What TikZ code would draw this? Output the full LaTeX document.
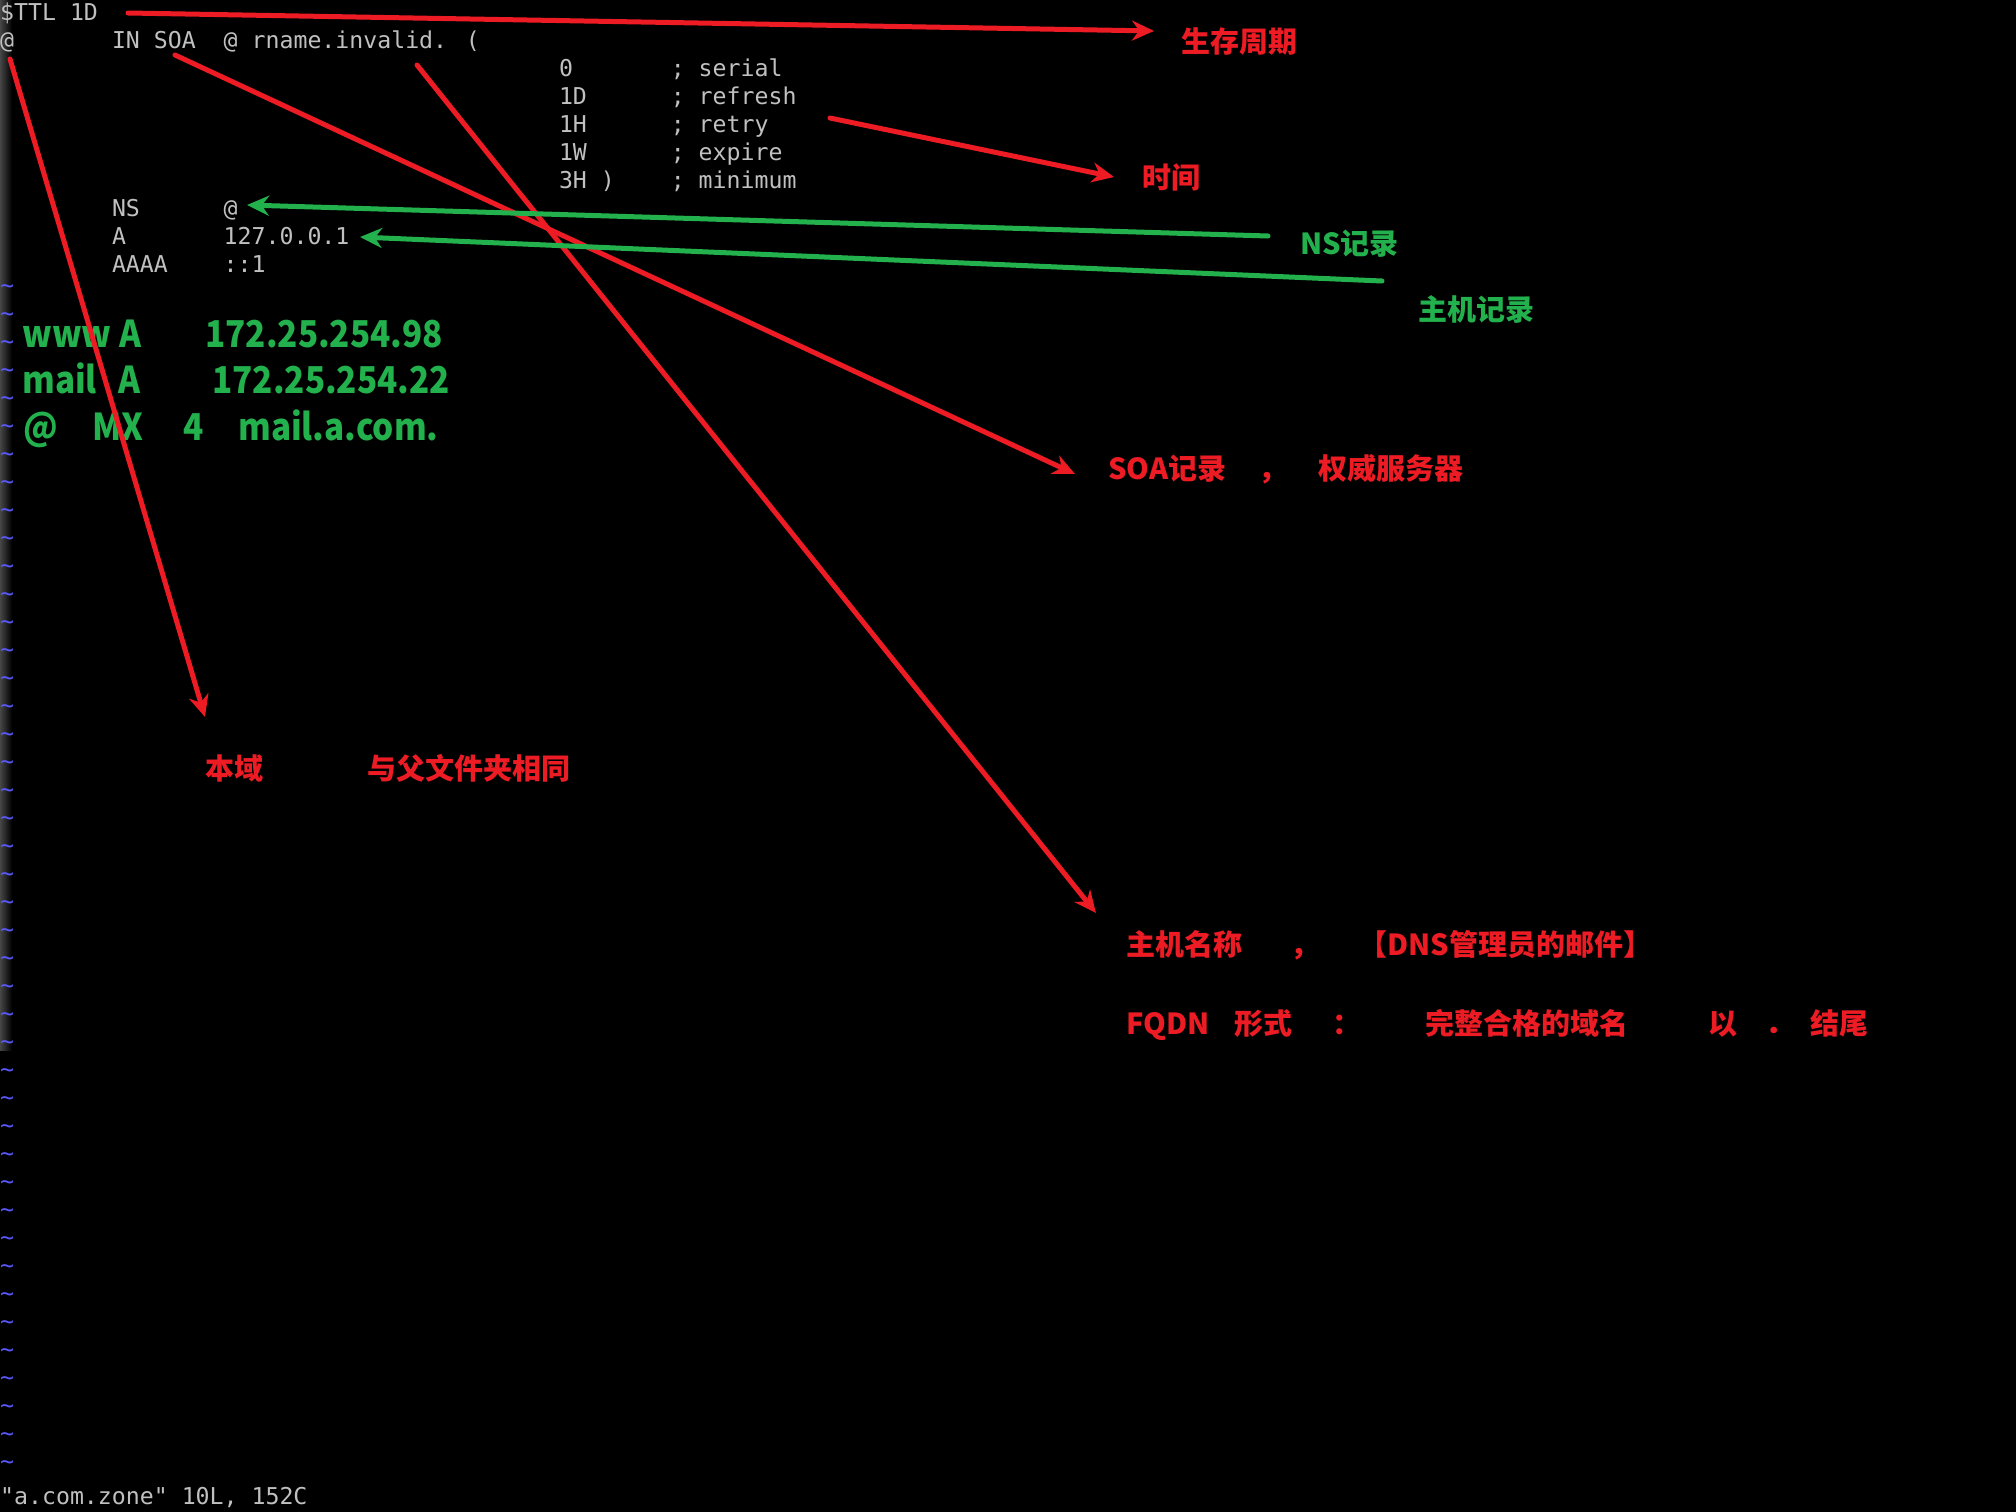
\documentclass[tikz,border=0pt]{standalone}
\usepackage{fontspec}
\usetikzlibrary{arrows.meta}
\newfontfamily\termfont{DejaVu Sans Mono}
\newfontfamily\cjk{Noto Sans CJK SC}
\newfontfamily\recfont{Noto Sans CJK SC}[FakeStretch=0.9]
\definecolor{markred}{RGB}{237,28,36}
\definecolor{markgreen}{RGB}{34,177,76}
\definecolor{termgray}{RGB}{192,192,192}
\definecolor{tildeblue}{RGB}{88,88,255}
\definecolor{stripgray}{RGB}{70,70,70}
\tikzset{
  term/.style={font=\termfont\fontsize{23.2}{28}\selectfont, text=termgray, anchor=base west, inner sep=0pt},
  tilde/.style={term, text=tildeblue},
  note/.style={font=\cjk\bfseries\fontsize{29}{34}\selectfont, anchor=base west, inner sep=0pt},
  rednote/.style={note, text=markred},
  greennote/.style={note, text=markgreen},
  rec/.style={font=\recfont\bfseries\fontsize{37}{46}\selectfont, text=markgreen, anchor=base west, inner sep=0pt},
  redarrow/.style={draw=markred, line width=5pt, line cap=round, -{Stealth[length=22pt,width=20pt]}},
  greenarrow/.style={redarrow, draw=markgreen},
}

\begin{document}
\begin{tikzpicture}[x=1pt, y=-1pt]
  %%%%% START %%%%%

  \fill[black] (0,0) rectangle (2016,1512);
  \shade[left color=stripgray, right color=black] (0,0) rectangle (12,1050);

  % zone file
  \node[term] (ttl) at (0, 20.5) {\$TTL 1D};
  \node[term] (origin) at (0, 48.5) {@};
  \node[term] (insoa) at (111.8, 48.5) {IN SOA};
  \node[term] (rname) at (223.5, 48.5) {@ rname.invalid. (};
  \node[term] (serialv) at (558.8, 76.5) {0};
  \node[term] (serialc) at (670.6, 76.5) {; serial};
  \node[term] (refreshv) at (558.8, 104.5) {1D};
  \node[term] (refreshc) at (670.6, 104.5) {; refresh};
  \node[term] (retryv) at (558.8, 132.5) {1H};
  \node[term] (retryc) at (670.6, 132.5) {; retry};
  \node[term] (expirev) at (558.8, 160.5) {1W};
  \node[term] (expirec) at (670.6, 160.5) {; expire};
  \node[term] (minv) at (558.8, 188.5) {3H )};
  \node[term] (minc) at (670.6, 188.5) {; minimum};
  \node[term] (nstype) at (111.8, 216.5) {NS};
  \node[term] (nsval) at (223.5, 216.5) {@};
  \node[term] (atype) at (111.8, 244.5) {A};
  \node[term] (aval) at (223.5, 244.5) {127.0.0.1};
  \node[term] (aaaatype) at (111.8, 272.5) {AAAA};
  \node[term] (aaaaval) at (223.5, 272.5) {::1};

  \foreach \k in {0,...,42}
    \node[tilde] (tl\k) at (0, {293+28*\k}) {\textasciitilde};

  \node[term] (status) at (0, 1504.5) {"a.com.zone" 10L, 152C};

  % added records
  \node[rec] (www) at (22, 347) {www A};
  \node[rec] (wwwip) at (205, 347) {172.25.254.98};
  \node[rec] (mail) at (22, 393) {mail};
  \node[rec] (mailA) at (118, 393) {A};
  \node[rec] (mailip) at (212, 393) {172.25.254.22};
  \node[rec] (mxat) at (23, 440) {@};
  \node[rec] (mx) at (92, 440) {MX};
  \node[rec] (mxpri) at (183, 440) {4};
  \node[rec] (mxhost) at (238, 440) {mail.a.com.};

  % notes
  \node[rednote] (life) at (1181, 53) {生存周期};
  \node[rednote] (times) at (1142, 188) {时间};
  \node[greennote] (nsnote) at (1300, 254) {NS记录};
  \node[greennote] (hostnote) at (1418, 320) {主机记录};
  \node[rednote] (soanote) at (1108, 479) {SOA记录};
  \node[rednote] (soacomma) at (1258, 479) {，};
  \node[rednote] (auth) at (1318, 479) {权威服务器};
  \node[rednote] (zone) at (205, 779) {本域};
  \node[rednote] (same) at (367, 779) {与父文件夹相同};
  \node[rednote] (hostname) at (1126, 955) {主机名称};
  \node[rednote] (hncomma) at (1290, 955) {，};
  \node[rednote] (admin) at (1358, 955) {【DNS管理员的邮件】};
  \node[rednote] (fqdn) at (1126, 1034) {FQDN};
  \node[rednote] (form) at (1234, 1034) {形式};
  \node[rednote] (colon) at (1332, 1034) {：};
  \node[rednote] (full) at (1425, 1034) {完整合格的域名};
  \node[rednote] (with) at (1708, 1034) {以};
  \node[rednote] (dot) at (1765, 1034) {．};
  \node[rednote] (ending) at (1810, 1034) {结尾};

  % arrows
  \coordinate (ttlA) at (128, 13);
  \coordinate (ttlB) at (1154, 31);
  \coordinate (timeA) at (830, 118);
  \coordinate (timeB) at (1114, 177);
  \coordinate (soaA) at (175, 55);
  \coordinate (soaB) at (1075, 474);
  \coordinate (rnameA) at (417, 65);
  \coordinate (rnameB) at (1096, 913);
  \coordinate (originA) at (10, 59);
  \coordinate (originB) at (205, 717);
  \coordinate (nsA) at (1268, 236);
  \coordinate (nsB) at (247, 205);
  \coordinate (hostA) at (1382, 281);
  \coordinate (hostB) at (360, 237);

  \draw[redarrow] (ttlA) -- (ttlB);
  \draw[redarrow] (timeA) -- (timeB);
  \draw[redarrow] (soaA) -- (soaB);
  \draw[redarrow] (rnameA) -- (rnameB);
  \draw[redarrow] (originA) -- (originB);
  \draw[greenarrow] (nsA) -- (nsB);
  \draw[greenarrow] (hostA) -- (hostB);

  %%%%% END %%%%%
\end{tikzpicture}
\end{document}
